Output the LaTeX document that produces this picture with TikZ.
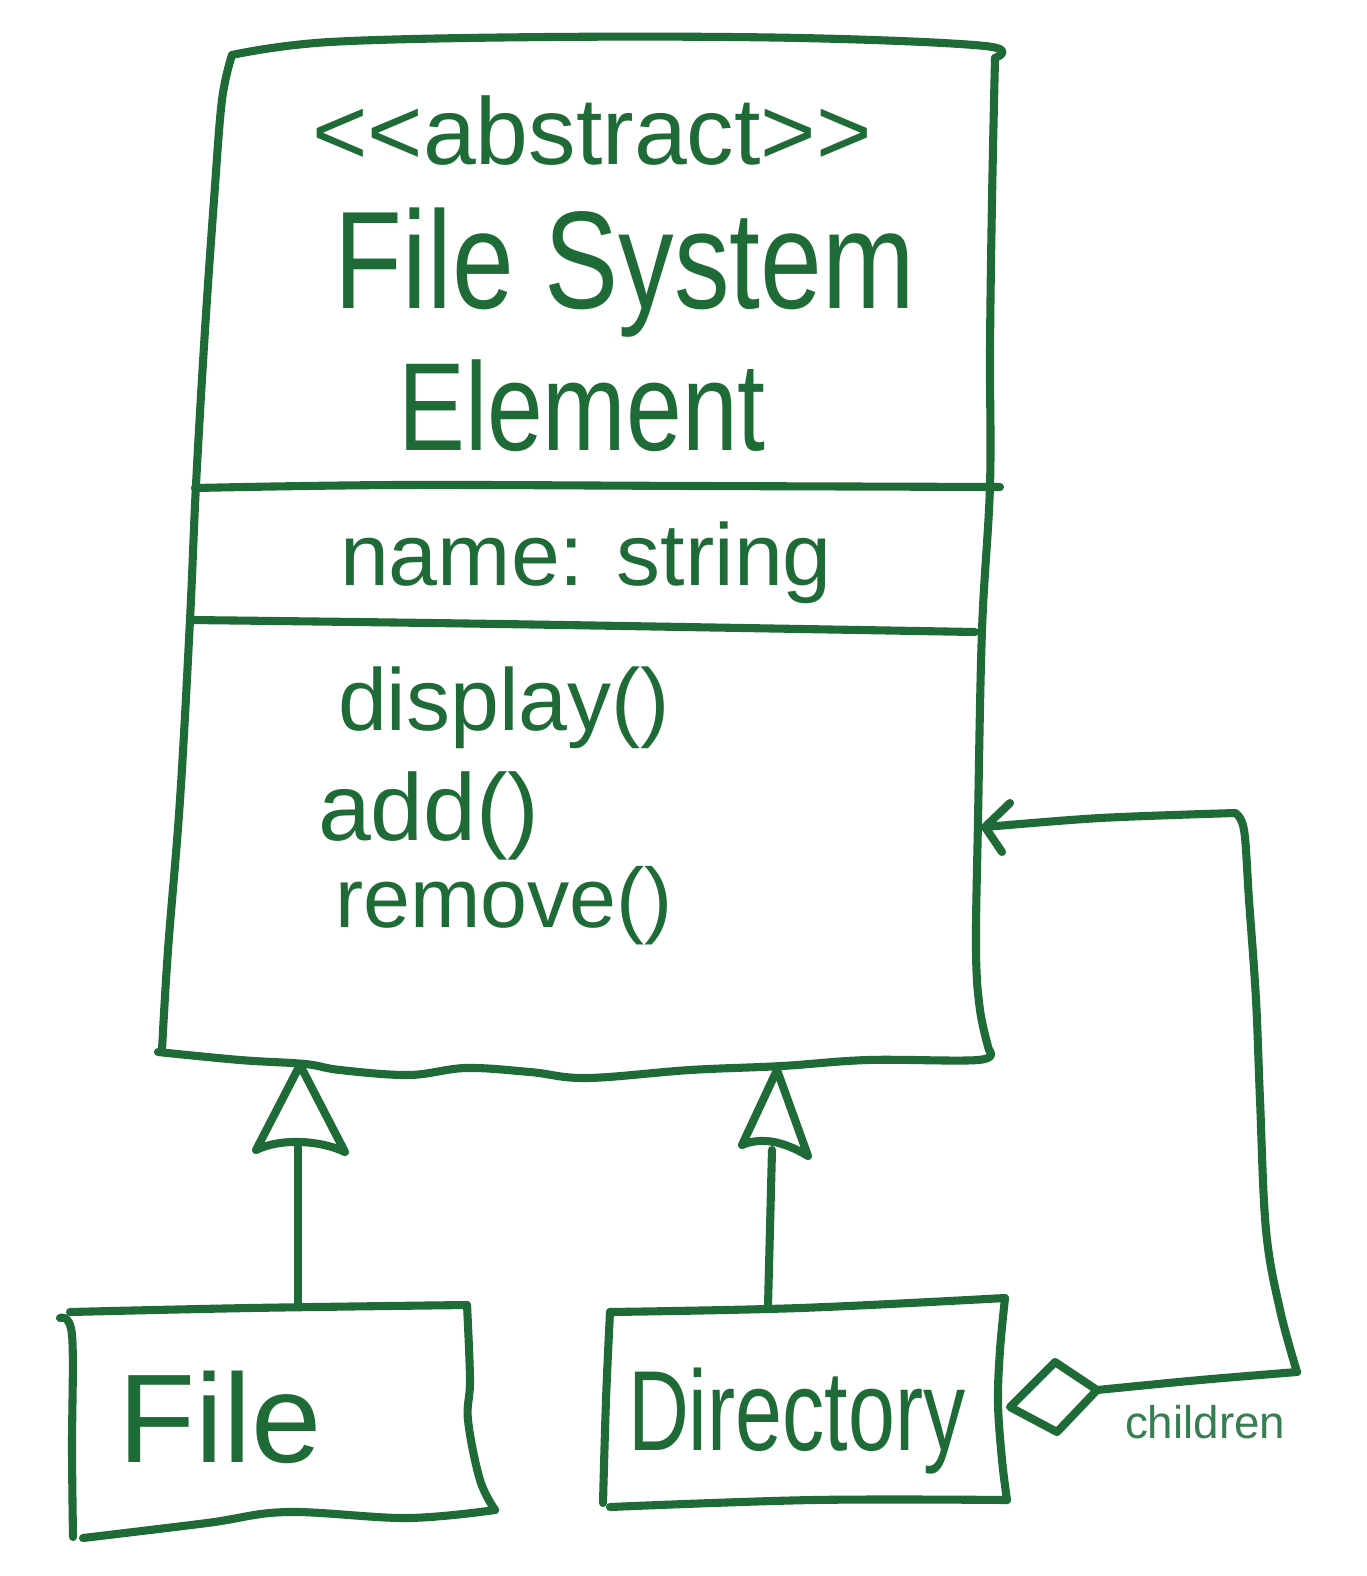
\documentclass[tikz,border=0pt]{standalone}
\usepackage{fontspec}
\setmainfont{Liberation Sans}
\usepackage{graphicx}
\definecolor{ink}{RGB}{30,107,55}
\definecolor{inklight}{RGB}{55,125,82}
\begin{document}
\begin{tikzpicture}[x=0.01cm,y=-0.01cm,
  hand/.style={draw=ink, line width=2.3pt, line cap=round, line join=round},
  lbl/.style={text=ink, inner sep=0pt, outer sep=0pt},
]
\useasboundingbox[fill=white] (0,0) rectangle (1366,1576);

% ---------- abstract class box ----------
\coordinate (fse-tl) at (232,55);
\coordinate (fse-tr) at (985,46);
\coordinate (fse-bl) at (158,1052);
\coordinate (fse-br) at (989,1050);
\draw[hand] plot[smooth, tension=0.6] coordinates {(fse-tl) (330,42) (550,37) (800,38) (fse-tr) (995,58)};
\draw[hand] plot[smooth, tension=0.6] coordinates {(995,58) (992,200) (990,350) (990,485) (982,630) (978,820) (976,950) (980,1010) (fse-br)};
\draw[hand] plot[smooth, tension=0.6] coordinates {(fse-tl) (222,100) (214,200) (205,330) (196,485) (190,620) (180,800) (168,950) (162,1050)};
\draw[hand] plot[smooth, tension=0.6] coordinates {(fse-bl) (240,1060) (305,1064) (340,1070) (409,1075) (466,1068) (530,1072) (587,1078) (690,1070) (782,1066) (868,1060) (978,1060) (fse-br)};
% dividers
\draw[hand] plot[smooth, tension=0.6] coordinates {(195,488) (400,485) (700,486) (1000,487)};
\draw[hand] plot[smooth, tension=0.6] coordinates {(190,620) (500,624) (975,632)};

% texts
\node[lbl, anchor=base] (stereo) at (592,165) {\fontsize{27}{32}\selectfont <\kern0pt<abstract>\kern0pt>};
\node[lbl, anchor=base] (title) at (625,308) {\scalebox{1}[1.25]{\fontsize{31.6}{38}\selectfont File System}};
\node[lbl, anchor=base] (titleb) at (582,450) {\scalebox{1}[1.25]{\fontsize{28.5}{34}\selectfont Element}};
\node[lbl, anchor=base west] (attr) at (340,585) {\fontsize{25}{30}\selectfont name: string};
\node[lbl, anchor=base west] (m1) at (338,730) {\fontsize{25}{30}\selectfont display()};
\node[lbl, anchor=base west] (m2) at (318,840) {\fontsize{27}{30}\selectfont add()};
\node[lbl, anchor=base west] (m3) at (335,927) {\fontsize{24}{30}\selectfont remove()};

% ---------- File box ----------
\coordinate (file-top) at (298,1306);
\draw[hand] plot[smooth, tension=0.6] coordinates {(70,1312) (250,1308) (467,1305)};
\draw[hand] plot[smooth, tension=0.6] coordinates {(467,1305) (470,1380) (468,1420) (480,1480) (495,1510)};
\draw[hand] plot[smooth, tension=0.6] coordinates {(495,1510) (407,1518) (287,1512) (207,1523) (83,1538)};
\draw[hand] plot[smooth, tension=0.6] coordinates {(60,1318) (72,1335) (72,1450) (73,1537)};
\node[lbl, anchor=base west] (file) at (118,1462) {\fontsize{35.9}{40}\selectfont File};

% ---------- Directory box ----------
\coordinate (dir-top) at (768,1306);
\draw[hand] plot[smooth, tension=0.6] coordinates {(610,1312) (800,1308) (1005,1298)};
\draw[hand] plot[smooth, tension=0.6] coordinates {(1005,1298) (1000,1350) (998,1403) (1002,1460) (1007,1500)};
\draw[hand] plot[smooth, tension=0.6] coordinates {(1007,1500) (813,1500) (610,1507)};
\draw[hand] plot[smooth, tension=0.6] coordinates {(603,1503) (606,1400) (610,1312)};
\node[lbl, anchor=base west] (dir) at (628,1450) {\scalebox{1}[1.35]{\fontsize{24}{30}\selectfont Directory}};

% ---------- generalisation arrows ----------
\coordinate (tri1-apex) at (300,1065);
\coordinate (tri1-base) at (298,1147);
\draw[hand] (tri1-apex) -- (256,1150) .. controls (280,1138) and (320,1140) .. (345,1152) -- cycle;
\draw[hand] (file-top) -- (tri1-base);
\coordinate (tri2-apex) at (777,1070);
\coordinate (tri2-base) at (772,1150);
\draw[hand] (tri2-apex) -- (742,1145) .. controls (765,1135) and (790,1145) .. (808,1156) -- cycle;
\draw[hand] (dir-top) -- (tri2-base);

% ---------- aggregation (children) ----------
\coordinate (dia-l) at (1010,1407);
\coordinate (dia-t) at (1055,1362);
\coordinate (dia-r) at (1097,1390);
\coordinate (dia-b) at (1057,1432);
\draw[hand] (dia-l) -- (dia-t) -- (dia-r) -- (dia-b) -- cycle;
\coordinate (arr-tip) at (985,827);
\draw[hand] plot[smooth, tension=0.5] coordinates {(dia-r) (1200,1380) (1297,1372)};
\draw[hand] plot[smooth, tension=0.6] coordinates {(1297,1372) (1280,1310) (1266,1230) (1260,1100) (1256,1000) (1249,900) (1244,830) (1235,813)};
\draw[hand] plot[smooth, tension=0.5] coordinates {(1235,813) (1100,818) (arr-tip)};
\draw[hand] (1010,803) -- (arr-tip) -- (1002,852);
\node[lbl, text=inklight, anchor=base west] (children) at (1125,1438) {\fontsize{13}{16}\selectfont children};
\end{tikzpicture}
\end{document}
